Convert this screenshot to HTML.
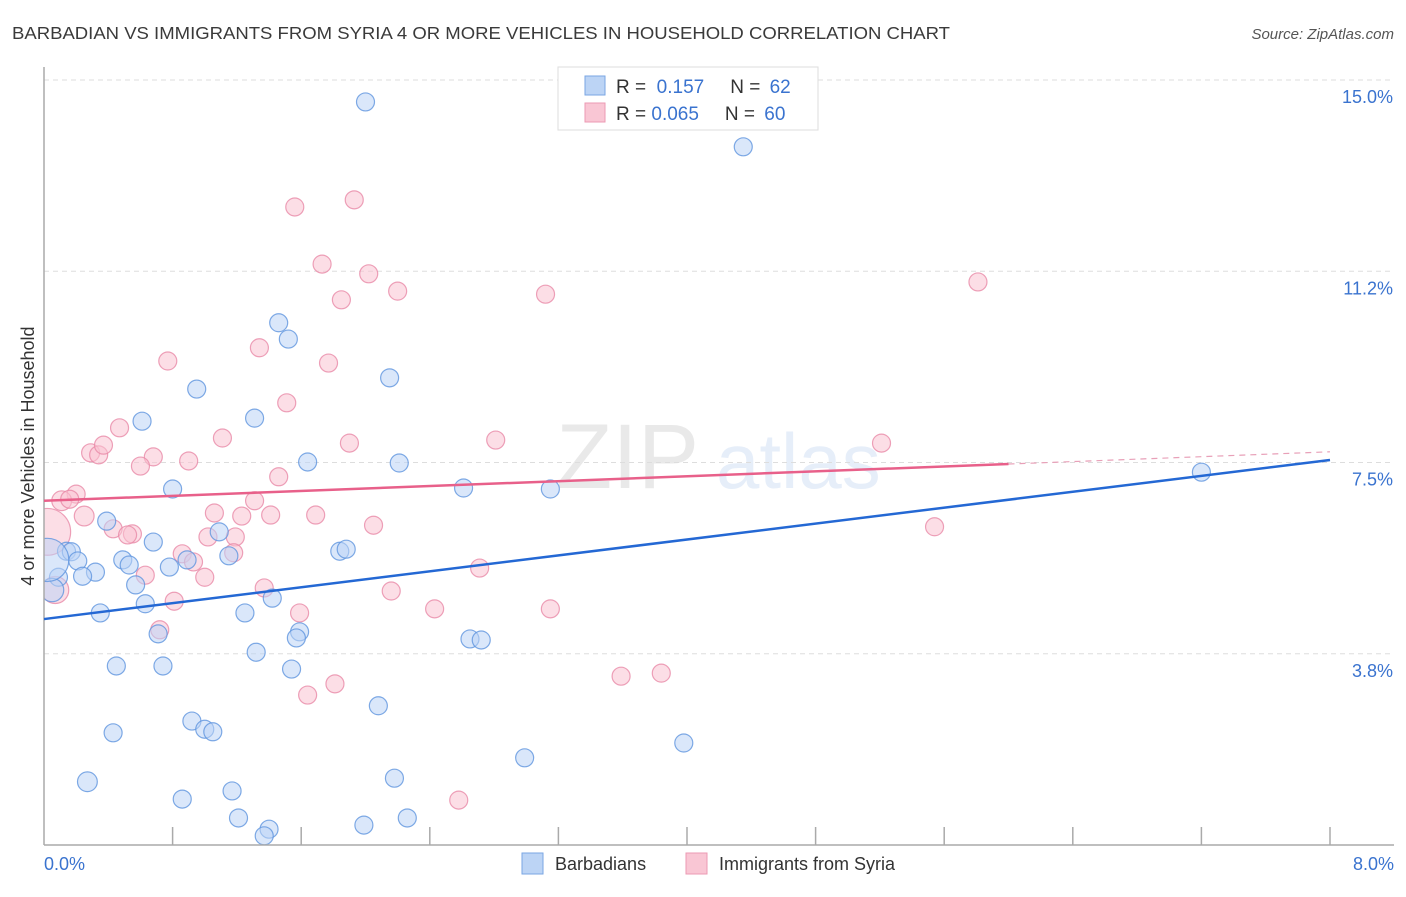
<!DOCTYPE html>
<html><head><meta charset="utf-8"><style>
body{margin:0;background:#fff;font-family:"Liberation Sans",sans-serif}
svg text{font-family:"Liberation Sans",sans-serif}
</style></head><body>
<svg id="chart" width="1406" height="892" viewBox="0 0 1406 892" xmlns="http://www.w3.org/2000/svg">
<defs><clipPath id="plotclip"><rect x="44" y="60" width="1360" height="785"/></clipPath></defs>
<text x="12" y="39" font-size="17.5" fill="#3a3a3a" textLength="938" lengthAdjust="spacingAndGlyphs">BARBADIAN VS IMMIGRANTS FROM SYRIA 4 OR MORE VEHICLES IN HOUSEHOLD CORRELATION CHART</text>
<text x="1394" y="39" font-size="15" fill="#555" font-style="italic" text-anchor="end">Source: ZipAtlas.com</text>
<g opacity="0.12">
<text x="556" y="488" font-size="92" font-family="Liberation Serif" fill="#555">ZIP</text>
<text x="716" y="488" font-size="78" fill="#3a78d0">atlas</text>
</g>
<g id="grid"></g>
<g id="pts-pink" clip-path="url(#plotclip)"></g>
<g id="pts-blue" clip-path="url(#plotclip)"></g>
<g id="axes"></g>
<g id="lines"></g>
<text transform="translate(34,456) rotate(-90)" font-size="18" fill="#333" text-anchor="middle">4 or more Vehicles in Household</text>
<text x="44" y="870" font-size="18" fill="#3a73cf">0.0%</text>
<text x="1394" y="870" font-size="18" fill="#3a73cf" text-anchor="end">8.0%</text>
<g>
<rect x="558" y="67" width="260" height="63" fill="#fff" stroke="#ddd"/>
<rect x="585" y="76" width="20" height="19" fill="#bcd4f5" stroke="#7aa6e3"/>
<rect x="585" y="103" width="20" height="19" fill="#f9c6d4" stroke="#ec9ab3"/>
<text x="616" y="93" font-size="19" fill="#333">R = <tspan fill="#3a73cf">&#160;0.157</tspan><tspan dx="26">N = </tspan><tspan fill="#3a73cf" dx="4">62</tspan></text>
<text x="616" y="120" font-size="19" fill="#333">R = <tspan fill="#3a73cf">0.065</tspan><tspan dx="26">N = </tspan><tspan fill="#3a73cf" dx="4">60</tspan></text>
</g>
<g>
<rect x="522" y="853" width="21" height="21" fill="#bcd4f5" stroke="#7aa6e3"/>
<text x="555" y="870" font-size="18" fill="#333">Barbadians</text>
<rect x="686" y="853" width="21" height="21" fill="#f9c6d4" stroke="#ec9ab3"/>
<text x="719" y="870" font-size="18" fill="#333">Immigrants from Syria</text>
</g>
</svg>
<script>
const yTicks=[3.75,7.5,11.25,15.0];
const yTickLabels=["3.8%","7.5%","11.2%","15.0%"];
const xTicks=[0.8,1.6,2.4,3.2,4.0,4.8,5.6,6.4,7.2,8.0];
const blueX=[2.00,4.35,1.46,1.52,2.15,0.95,1.31,0.61,1.64,2.21,7.20,0.80,2.61,3.15,0.39,1.09,0.68,0.14,0.17,0.21,0.49,0.53,0.78,0.89,1.15,1.84,1.88,0.32,0.24,0.09,0.05,0.57,0.63,1.42,0.35,1.25,0.71,1.59,1.57,2.65,2.72,1.32,0.45,0.74,1.54,2.08,0.92,1.00,1.05,0.43,3.98,2.99,0.27,2.18,0.86,1.17,1.21,2.26,1.99,1.40,1.37,0.02];
const blueY=[14.57,13.69,10.24,9.92,9.16,8.94,8.37,8.31,7.51,7.49,7.31,6.98,7.00,6.98,6.35,6.14,5.94,5.76,5.75,5.57,5.59,5.49,5.45,5.59,5.67,5.76,5.80,5.35,5.27,5.25,5.00,5.10,4.73,4.84,4.55,4.55,4.14,4.18,4.06,4.04,4.02,3.78,3.51,3.51,3.45,2.73,2.43,2.27,2.22,2.20,2.00,1.71,1.24,1.31,0.90,1.06,0.53,0.53,0.39,0.31,0.18,5.59];
const blueSize=[1,1,1,1,1,1,1,1,1,1,1,1,1,1,1,1,1,1,1,1,1,1,1,1,1,1,1,1,1,1,1.3,1,1,1,1,1,1,1,1,1,1,1,1,1,1,1,1,1,1,1,1,1,1.1,1,1,1,1,1,1,1,1,2.4];
const pinkX=[1.93,1.56,1.73,2.02,2.20,1.85,3.12,5.81,0.77,1.34,1.77,1.51,1.11,0.47,1.90,2.81,5.21,0.29,0.34,0.37,0.68,0.60,0.90,1.46,0.20,0.11,0.16,0.25,1.06,1.31,1.23,1.41,1.69,2.05,5.54,0.43,0.55,0.52,1.19,1.02,0.86,0.93,1.18,0.63,1.00,1.37,2.16,2.71,0.81,1.59,2.43,3.15,0.72,3.59,3.84,1.81,1.64,2.58,0.02,0.07];
const pinkY=[12.65,12.51,11.39,11.20,10.86,10.69,10.80,11.04,9.49,9.75,9.45,8.67,7.98,8.18,7.88,7.94,7.88,7.69,7.65,7.84,7.61,7.43,7.53,7.22,6.88,6.75,6.78,6.45,6.51,6.75,6.45,6.47,6.47,6.27,6.24,6.20,6.10,6.08,6.04,6.04,5.71,5.55,5.73,5.29,5.25,5.04,4.98,5.43,4.78,4.55,4.63,4.63,4.22,3.31,3.37,3.16,2.94,0.88,6.14,5.00];
const pinkSize=[1,1,1,1,1,1,1,1,1,1,1,1,1,1,1,1,1,1,1,1,1,1,1,1,1,1.1,1,1.1,1,1,1,1,1,1,1,1,1,1,1,1,1,1,1,1,1,1,1,1,1,1,1,1,1,1,1,1,1,1,2.6,1.5];
const blueTrend=[4.43,7.55];
const pinkTrend=[6.75,7.71];
const pinkSolidEnd=6.0;

const NS="http://www.w3.org/2000/svg";
const X0=44,X1=1330,Y0=845,YTOP=80;
const sx=v=>X0+(X1-X0)*v/8;
const sy=v=>Y0-(Y0-YTOP)*v/15;
function mk(t,a,p){const e=document.createElementNS(NS,t);for(const k in a)e.setAttribute(k,a[k]);p.appendChild(e);return e;}
const grid=document.getElementById('grid');
yTicks.forEach((v,i)=>{
  const l=mk('line',{x1:X0,x2:1394,y1:sy(v),y2:sy(v),stroke:'#ddd','stroke-dasharray':'5,4'},grid);
  
  
  const t=mk('text',{x:1393,y:sy(v)+23,'font-size':18,fill:'#3a73cf','text-anchor':'end'},grid);
  t.textContent=yTickLabels[i];
  
  
});
const axes=document.getElementById('axes');
mk('line',{x1:X0,x2:X0,y1:67,y2:Y0,stroke:'#aaa','stroke-width':1.5},axes);
mk('line',{x1:X0,x2:1394,y1:Y0,y2:Y0,stroke:'#aaa','stroke-width':1.5},axes);
xTicks.forEach(v=>{
  const t=mk('line',{x1:sx(v),x2:sx(v),y1:Y0-18,y2:Y0,stroke:'#aaa','stroke-width':1.5},axes);
  
  
});
function pts(xs,ys,ss,g,fill,stroke,name){
  xs.forEach((x,i)=>{
    const c=mk('circle',{cx:sx(x),cy:sy(ys[i]),r:9*ss[i],fill:fill,'fill-opacity':0.55,stroke:stroke,'stroke-width':1.2,'stroke-opacity':0.8},g);
    
    
  });
}
pts(pinkX,pinkY,pinkSize,document.getElementById('pts-pink'),'#f9c2d2','#e98aa8','syria-point');
pts(blueX,blueY,blueSize,document.getElementById('pts-blue'),'#bcd4f5','#5f95df','barbadian-point');
const lines=document.getElementById('lines');
const bl=mk('line',{x1:sx(0),y1:sy(blueTrend[0]),x2:sx(8),y2:sy(blueTrend[1]),stroke:'#2468d4','stroke-width':2.5},lines);


const pm=v=>pinkTrend[0]+(pinkTrend[1]-pinkTrend[0])*v/8;
const pl=mk('line',{x1:sx(0),y1:sy(pinkTrend[0]),x2:sx(pinkSolidEnd),y2:sy(pm(pinkSolidEnd)),stroke:'#e8608a','stroke-width':2.5},lines);


const pd=mk('line',{x1:sx(pinkSolidEnd),y1:sy(pm(pinkSolidEnd)),x2:sx(8),y2:sy(pinkTrend[1]),stroke:'#e8a0b8','stroke-width':1.2,'stroke-dasharray':'6,5'},lines);


</script>
</body></html>
